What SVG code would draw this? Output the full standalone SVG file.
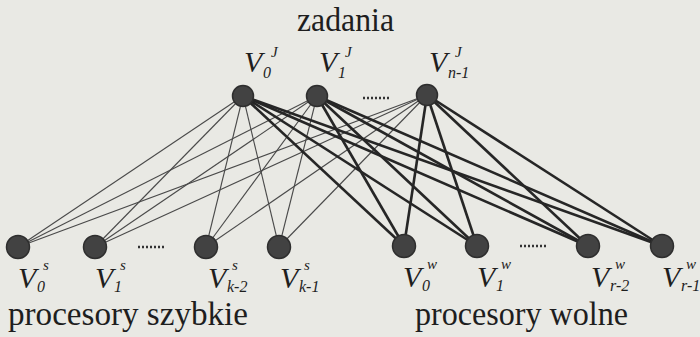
<svg xmlns="http://www.w3.org/2000/svg" width="700" height="337" viewBox="0 0 700 337">
  <style>
    .title { font-size: 33px; fill: #1e1e1e; }
    .v { font-style: italic; font-size: 30px; fill: #1e1e1e; }
    .sub { font-style: italic; font-size: 16px; fill: #1e1e1e; }
    .sup { font-style: italic; font-size: 15px; fill: #1e1e1e; }
    .node { fill: #424242; stroke: #2e2e2e; stroke-width: 1.5; }
    .thin { stroke: #4a4a4a; stroke-width: 1.1; fill: none; }
    .thick { stroke: #262626; stroke-width: 2.6; fill: none; }
    .dots { stroke: #333; stroke-width: 2.5; stroke-dasharray: 2 2; }
  </style>
  <rect width="700" height="337" fill="#e9e9e4"/>

  <!-- connectors: thin to fast processors, thick to slow processors -->
  <g id="connectors">
    <g class="thin">
      <line x1="243" y1="96" x2="18" y2="247"/>
      <line x1="243" y1="96" x2="95" y2="247"/>
      <line x1="243" y1="96" x2="206" y2="247"/>
      <line x1="243" y1="96" x2="279" y2="247"/>
      <line x1="317" y1="96" x2="18" y2="247"/>
      <line x1="317" y1="96" x2="95" y2="247"/>
      <line x1="317" y1="96" x2="206" y2="247"/>
      <line x1="317" y1="96" x2="279" y2="247"/>
      <line x1="427" y1="95" x2="18" y2="247"/>
      <line x1="427" y1="95" x2="95" y2="247"/>
      <line x1="427" y1="95" x2="206" y2="247"/>
      <line x1="427" y1="95" x2="279" y2="247"/>
    </g>
    <g class="thick">
      <line x1="243" y1="96" x2="404" y2="246"/>
      <line x1="243" y1="96" x2="477" y2="246"/>
      <line x1="243" y1="96" x2="588" y2="246"/>
      <line x1="243" y1="96" x2="662" y2="246"/>
      <line x1="317" y1="96" x2="404" y2="246"/>
      <line x1="317" y1="96" x2="477" y2="246"/>
      <line x1="317" y1="96" x2="588" y2="246"/>
      <line x1="317" y1="96" x2="662" y2="246"/>
      <line x1="427" y1="95" x2="404" y2="246"/>
      <line x1="427" y1="95" x2="477" y2="246"/>
      <line x1="427" y1="95" x2="588" y2="246"/>
      <line x1="427" y1="95" x2="662" y2="246"/>
    </g>
  </g>

  <!-- all lettering in a serif face -->
  <g font-family="Liberation Serif, serif">
    <!-- group headings -->
    <text class="title" x="297" y="31" textLength="97" lengthAdjust="spacingAndGlyphs">zadania</text>
    <text class="title" x="8" y="325" textLength="240" lengthAdjust="spacingAndGlyphs">procesory szybkie</text>
    <text class="title" x="415" y="325" textLength="213" lengthAdjust="spacingAndGlyphs">procesory wolne</text>
  </g>

  <!-- ellipses between nodes -->
  <line class="dots" x1="363" y1="98" x2="389" y2="98"/>
  <line class="dots" x1="138" y1="247" x2="165" y2="247"/>
  <line class="dots" x1="520" y1="246" x2="547" y2="246"/>

  <g font-family="Liberation Serif, serif">
  <!-- task nodes -->
  <g id="task0">
    <circle class="node" cx="243" cy="96" r="10.5"/>
    <text class="v" x="244" y="72">V</text><text class="sub" x="263" y="78">0</text><text class="sup" x="271" y="57">J</text>
  </g>
  <g id="task1">
    <circle class="node" cx="317" cy="96" r="10.5"/>
    <text class="v" x="319" y="72">V</text><text class="sub" x="338" y="78">1</text><text class="sup" x="345" y="57">J</text>
  </g>
  <g id="taskN">
    <circle class="node" cx="427" cy="95" r="10.5"/>
    <text class="v" x="429" y="72">V</text><text class="sub" x="448" y="78">n-1</text><text class="sup" x="455" y="57">J</text>
  </g>

  <!-- fast processor nodes -->
  <g id="fast0">
    <circle class="node" cx="18" cy="247" r="11.5"/>
    <text class="v" x="18" y="288">V</text><text class="sub" x="37" y="292">0</text><text class="sup" x="43" y="270">s</text>
  </g>
  <g id="fast1">
    <circle class="node" cx="95" cy="247" r="11.5"/>
    <text class="v" x="95" y="288">V</text><text class="sub" x="114" y="292">1</text><text class="sup" x="120" y="270">s</text>
  </g>
  <g id="fastK2">
    <circle class="node" cx="206" cy="247" r="11.5"/>
    <text class="v" x="208" y="288">V</text><text class="sub" x="227" y="292">k-2</text><text class="sup" x="232" y="270">s</text>
  </g>
  <g id="fastK1">
    <circle class="node" cx="279" cy="247" r="11.5"/>
    <text class="v" x="280" y="288">V</text><text class="sub" x="299" y="292">k-1</text><text class="sup" x="304" y="270">s</text>
  </g>

  <!-- slow processor nodes -->
  <g id="slow0">
    <circle class="node" cx="404" cy="246" r="11.5"/>
    <text class="v" x="403" y="287">V</text><text class="sub" x="422" y="291">0</text><text class="sup" x="427" y="269">w</text>
  </g>
  <g id="slow1">
    <circle class="node" cx="477" cy="246" r="11.5"/>
    <text class="v" x="477" y="287">V</text><text class="sub" x="496" y="291">1</text><text class="sup" x="501" y="269">w</text>
  </g>
  <g id="slowR2">
    <circle class="node" cx="588" cy="246" r="11.5"/>
    <text class="v" x="591" y="287">V</text><text class="sub" x="610" y="291">r-2</text><text class="sup" x="615" y="269">w</text>
  </g>
  <g id="slowR1">
    <circle class="node" cx="662" cy="246" r="11.5"/>
    <text class="v" x="662" y="287">V</text><text class="sub" x="681" y="291">r-1</text><text class="sup" x="686" y="269">w</text>
  </g>
  </g>
</svg>
